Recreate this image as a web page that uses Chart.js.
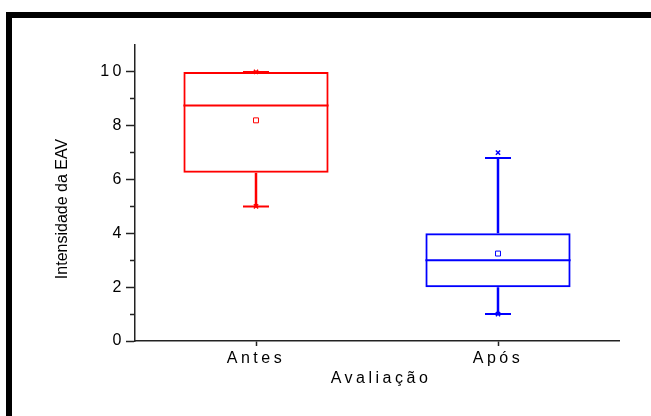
<!DOCTYPE html>
<html>
<head>
<meta charset="utf-8">
<script src="https://cdn.jsdelivr.net/npm/chart.js@4/dist/chart.umd.min.js"></script>
<style>
  html, body { margin: 0; padding: 0; background: #fff; }
  #wrap { position: relative; width: 651px; height: 416px; overflow: hidden; }
  #chart { position: absolute; left: 0; top: 0; }
  #frame {
    position: absolute; left: 6px; top: 12px; width: 700px; height: 500px;
    border-left: 6px solid #000; border-top: 6px solid #000; pointer-events: none;
  }
</style>
</head>
<body>
<div id="wrap">
  <canvas id="chart" width="651" height="416"></canvas>
  <div id="frame"></div>
</div>
<script>
// Pain intensity (EAV) before and after — box plot summaries per group
const categories = ['Antes', 'Após'];
const whiskerLow = [5, 1];
const q1 = [6.25, 2];
const median = [8.75, 3];
const q3 = [10, 4];
const whiskerHigh = [10, 6.8];
const means = [8.2, 3.25];
const minimums = [5, 1];
const maximums = [10, 7];
const yMajorTicks = [0, 2, 4, 6, 8, 10];
const groupColors = ['#ff0000', '#0000ff'];

Chart.defaults.font.family = "'Liberation Sans', Arial, sans-serif";
Chart.defaults.font.size = 16;
Chart.defaults.color = '#000';

const CatBase = Chart.CategoryScale || Chart.registry.getScale('category');
const LinBase = Chart.LinearScale || Chart.registry.getScale('linear');

// Category axis whose labels and title are drawn letter-spaced
class SpacedCategoryScale extends CatBase {
  drawLabels(area) {
    const c = this.ctx; c.save(); c.letterSpacing = '3.5px'; super.drawLabels(area); c.restore();
  }
  drawTitle() {
    const c = this.ctx; c.save(); c.letterSpacing = '3.5px'; c.translate(4, 0); super.drawTitle(); c.restore();
  }
}
SpacedCategoryScale.id = 'spacedCategory';
SpacedCategoryScale.defaults = CatBase.defaults;

// Linear axis with letter-spaced tick labels
class SpacedLinearScale extends LinBase {
  drawLabels(area) {
    const c = this.ctx; c.save(); c.letterSpacing = '3.5px'; super.drawLabels(area); c.restore();
  }
  drawTitle() {
    const c = this.ctx; c.save(); c.translate(0, 16); super.drawTitle(); c.restore();
  }
}
SpacedLinearScale.id = 'spacedLinear';
SpacedLinearScale.defaults = LinBase.defaults;

Chart.register(SpacedCategoryScale, SpacedLinearScale);

// Whiskers, caps and median lines, positioned through the chart scales
const boxWhiskers = {
  id: 'boxWhiskers',
  beforeDatasetsDraw(chart) {
    const { ctx, scales: { y } } = chart;
    const boxes = chart.getDatasetMeta(0).data;
    ctx.save();
    ctx.lineCap = 'butt';
    boxes.forEach((bar, i) => {
      const cx = bar.x;
      const half = bar.width / 2;
      const capHalf = 13;
      ctx.strokeStyle = groupColors[i];
      ctx.lineWidth = 2.5;
      const yLo = y.getPixelForValue(whiskerLow[i]);
      const yQ1 = y.getPixelForValue(q1[i]);
      const yQ3 = y.getPixelForValue(q3[i]);
      const yHi = y.getPixelForValue(whiskerHigh[i]);
      ctx.beginPath();
      ctx.moveTo(cx, yQ1); ctx.lineTo(cx, yLo);
      ctx.moveTo(cx, yQ3); ctx.lineTo(cx, yHi);
      ctx.stroke();
      ctx.lineWidth = 2;
      ctx.beginPath();
      ctx.moveTo(cx - capHalf, yLo); ctx.lineTo(cx + capHalf, yLo);
      ctx.moveTo(cx - capHalf, yHi); ctx.lineTo(cx + capHalf, yHi);
      const yMed = y.getPixelForValue(median[i]);
      ctx.moveTo(cx - half, yMed); ctx.lineTo(cx + half, yMed);
      ctx.stroke();
    });
    ctx.restore();
  }
};

new Chart(document.getElementById('chart'), {
  type: 'bar',
  data: {
    labels: categories,
    datasets: [
      {
        label: 'Q1–Q3',
        data: categories.map((_, i) => [q1[i], q3[i]]),
        backgroundColor: 'rgba(0,0,0,0)',
        borderColor: groupColors,
        borderWidth: 2,
        borderSkipped: false,
        barPercentage: 0.6,
        categoryPercentage: 1
      },
      {
        type: 'line',
        label: 'Média',
        data: means,
        showLine: false,
        pointStyle: 'rect',
        pointRadius: 3.5,
        pointBorderWidth: 1,
        pointBorderColor: groupColors,
        pointBackgroundColor: 'rgba(0,0,0,0)'
      },
      {
        type: 'line',
        label: 'Mínimo',
        data: minimums,
        showLine: false,
        pointStyle: 'crossRot',
        pointRadius: 3,
        pointBorderWidth: 1.5,
        pointBorderColor: groupColors
      },
      {
        type: 'line',
        label: 'Máximo',
        data: maximums,
        showLine: false,
        pointStyle: 'crossRot',
        pointRadius: 3,
        pointBorderWidth: 1.5,
        pointBorderColor: groupColors
      }
    ]
  },
  options: {
    responsive: false,
    animation: false,
    events: [],
    layout: { padding: { left: 0, top: 45, right: 32, bottom: 0 } },
    plugins: { legend: { display: false }, tooltip: { enabled: false } },
    scales: {
      x: {
        type: 'spacedCategory',
        offset: true,
        afterFit: (s) => { s.height = 75; },
        grid: { display: true, drawOnChartArea: false, offset: false, tickLength: 5, tickColor: '#222', tickWidth: 1.5 },
        border: { display: true, color: '#222', width: 1.5 },
        ticks: { padding: 3, color: '#000' },
        title: { display: true, text: 'Avaliação', color: '#000', padding: { top: 0, bottom: 28 } }
      },
      y: {
        type: 'spacedLinear',
        min: 0,
        max: 11,
        afterFit: (s) => { s.width = 135; },
        afterBuildTicks: (s) => { s.ticks = s.ticks.filter(t => t.value <= yMajorTicks[yMajorTicks.length - 1]); },
        grid: {
          display: true, drawOnChartArea: false, tickLength: 9, tickColor: '#222', tickWidth: 1.5,
          tickBorderDash: (ctx) => (ctx.tick && yMajorTicks.includes(ctx.tick.value)) ? [] : [0, 4, 20]
        },
        border: { display: true, color: '#222', width: 1.5 },
        ticks: {
          stepSize: 1, padding: 1, color: '#000',
          callback: (v) => yMajorTicks.includes(v) ? String(v) : ''
        },
        title: { display: true, text: 'Intensidade da EAV', color: '#000', padding: { top: 53, bottom: 0 } }
      }
    }
  },
  plugins: [boxWhiskers]
});
</script>
</body>
</html>
